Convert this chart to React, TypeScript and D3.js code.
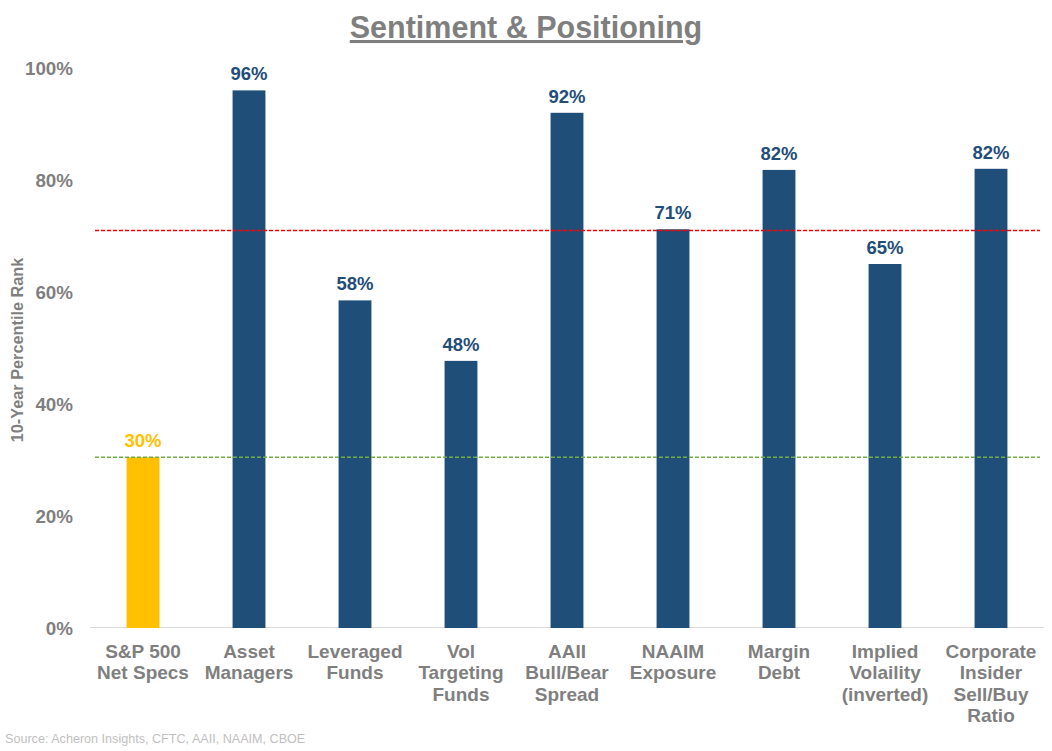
import React from "react";
import * as d3 from "d3";

const categories: string[][] = [
  ["S&P 500", "Net Specs"],
  ["Asset", "Managers"],
  ["Leveraged", "Funds"],
  ["Vol", "Targeting", "Funds"],
  ["AAII", "Bull/Bear", "Spread"],
  ["NAAIM", "Exposure"],
  ["Margin", "Debt"],
  ["Implied", "Volaility", "(inverted)"],
  ["Corporate", "Insider", "Sell/Buy", "Ratio"],
];
const values: number[] = [30.5, 96, 58.5, 47.7, 92, 71.2, 81.8, 65, 82];
const valueLabels: string[] = ["30%", "96%", "58%", "48%", "92%", "71%", "82%", "65%", "82%"];
const yTicks: number[] = [0, 20, 40, 60, 80, 100];
const redLine = 71;
const greenLine = 30.5;

const W = 1052;
const H = 751;
const FONT = "'Liberation Sans', Arial, sans-serif";
const GRAY = "#7f7f7f";
const BLUE = "#1f4e79";
const GOLD = "#ffc000";

export default function App() {
  const x = d3
    .scaleBand<number>()
    .domain(d3.range(categories.length))
    .range([90, 1044])
    .paddingInner(0.69)
    .paddingOuter(0.345);
  const y = d3.scaleLinear().domain([0, 100]).range([628, 68]);

  return (
    <svg width={W} height={H} style={{ position: "absolute", left: 0, top: 0, background: "#fff" }} fontFamily={FONT}>
      <text x={526} y={38} textAnchor="middle" fontSize={30.5} fontWeight="bold" fill={GRAY} textDecoration="underline">
        Sentiment &amp; Positioning
      </text>
      {yTicks.map((t) => (
        <text key={t} x={73} y={y(t) + 6.5} textAnchor="end" fontSize={18.8} fontWeight="bold" fill={GRAY}>
          {t}%
        </text>
      ))}
      <text
        transform={`translate(23,350) rotate(-90)`}
        textAnchor="middle"
        fontSize={16.3}
        fontWeight="bold"
        fill={GRAY}
      >
        10-Year Percentile Rank
      </text>
      <line x1={90} x2={1044} y1={y(0) - 0.5} y2={y(0) - 0.5} stroke="#d9d9d9" strokeWidth={1} />
      {values.map((v, i) => (
        <rect
          key={i}
          x={x(i)}
          y={y(v)}
          width={x.bandwidth()}
          height={y(0) - y(v)}
          fill={i === 0 ? GOLD : BLUE}
        />
      ))}
      <line x1={95} x2={1040} y1={y(redLine)} y2={y(redLine)} stroke="#ff0000" strokeWidth={1.5} strokeDasharray="4,2" />
      <line x1={95} x2={1040} y1={y(greenLine)} y2={y(greenLine)} stroke="#70ad47" strokeWidth={1.5} strokeDasharray="4,2" />
      {values.map((v, i) => (
        <text
          key={i}
          x={(x(i) as number) + x.bandwidth() / 2}
          y={y(v) - 10}
          textAnchor="middle"
          fontSize={18.5}
          fontWeight="bold"
          fill={i === 0 ? GOLD : BLUE}
        >
          {valueLabels[i]}
        </text>
      ))}
      {categories.map((lines, i) => (
        <text
          key={i}
          x={(x(i) as number) + x.bandwidth() / 2}
          textAnchor="middle"
          fontSize={19}
          fontWeight="bold"
          fill={GRAY}
        >
          {lines.map((l, j) => (
            <tspan key={j} x={(x(i) as number) + x.bandwidth() / 2} y={658 + j * 21.3}>
              {l}
            </tspan>
          ))}
        </text>
      ))}
      <text x={5} y={743} fontSize={12.6} fill="#bfbfbf">
        Source: Acheron Insights, CFTC, AAII, NAAIM, CBOE
      </text>
    </svg>
  );
}
